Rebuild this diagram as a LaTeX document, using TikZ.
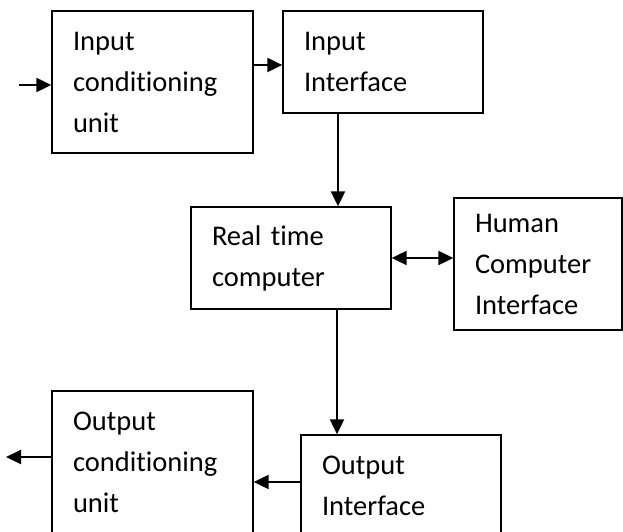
\documentclass[tikz,border=0pt]{standalone}
\usepackage{fontspec}
\setmainfont{Carlito}[Ligatures={NoCommon}]
\usepackage{tikz}
\usetikzlibrary{arrows.meta,positioning,calc}
\tikzstyle{arrow} = [line width=2pt,-{Triangle[length=15pt,width=14pt]}]
\tikzstyle{twoway} = [line width=2pt,{Triangle[length=15pt,width=14pt]}-{Triangle[length=15pt,width=14pt]}]
\tikzstyle{blockbox} = [rectangle, draw=black, line width=1.3pt, align=left, inner xsep=21pt, font=\fontsize{28.5pt}{41pt}\selectfont]

\begin{document}
\begin{tikzpicture}[x=1pt, y=1pt]
\useasboundingbox (0,0) rectangle (623,532);
\clip (0,0) rectangle (623,532);

% Input side
\node[blockbox, text width=159pt, minimum height=142pt] (incond) at (152.5,450) {Input\\conditioning\\unit};
\node[blockbox, text width=158pt, minimum height=102pt] (inif) at (383,470) {Input\\Interface};

% Computer and operator
\node[blockbox, text width=158pt, minimum height=102pt] (rtc) at (291,274) {Real time\\computer};
\node[blockbox, text width=126pt, minimum height=132pt] (hci) at (538,268) {Human\\Computer\\Interface};

% Output side
\node[blockbox, text width=159pt, minimum height=142pt] (outcond) at (152.5,70) {Output\\conditioning\\unit};
\node[blockbox, text width=158pt, minimum height=102pt] (outif) at (401,46) {Output\\Interface};

% Free ends and tap points
\coordinate (sigin) at (19,447);
\coordinate (sigout) at (6,75);
\coordinate (tapin) at ([yshift=17pt]incond.east);
\coordinate (tapout) at ([yshift=4pt]outif.west);

% Arrows
\draw[arrow] (sigin) -- (incond.west |- sigin);
\draw[arrow] (tapin) -- (tapin -| inif.west);
\draw[arrow] ([xshift=-45pt]inif.south) -- ([xshift=47pt]rtc.north);
\draw[twoway] (rtc.east) -- (rtc.east -| hci.west);
\draw[arrow] ([xshift=46pt]rtc.south) -- ([xshift=-64pt]outif.north);
\draw[arrow] (tapout) -- (tapout -| outcond.east);
\draw[arrow] ([yshift=5pt]outcond.west) -- (sigout);
\end{tikzpicture}
\end{document}
